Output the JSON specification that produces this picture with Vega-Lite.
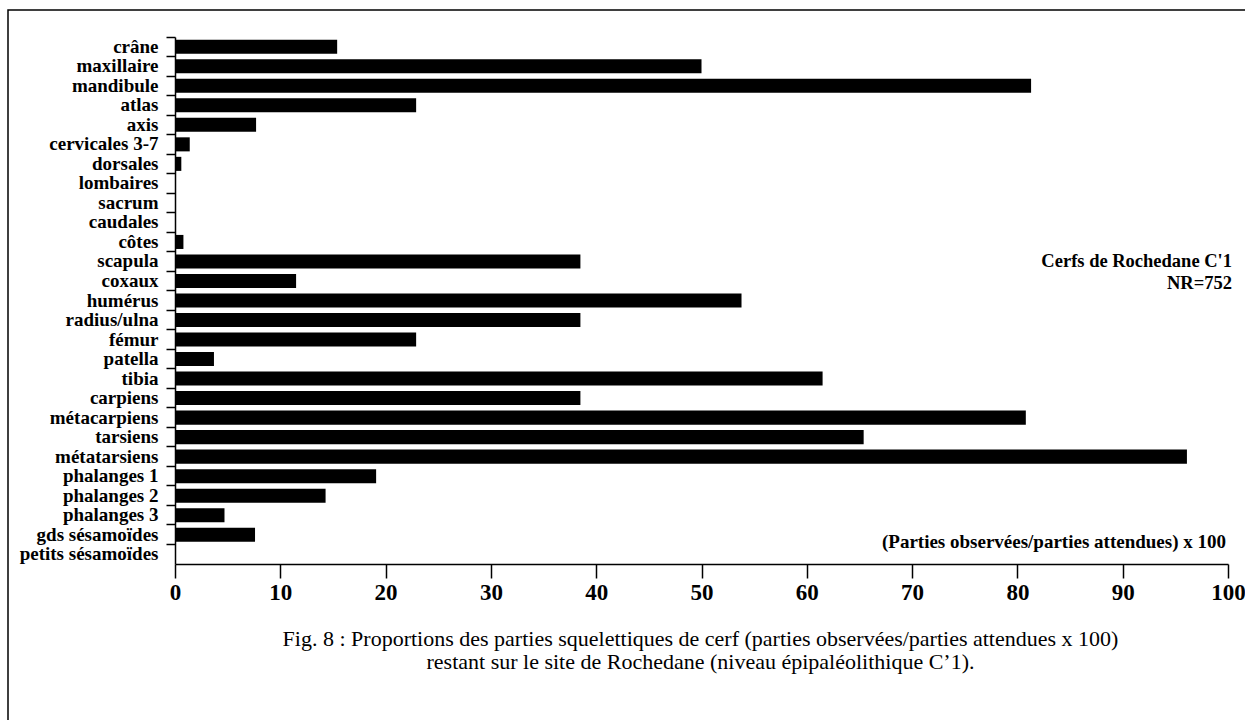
{
  "$schema": "https://vega.github.io/schema/vega-lite/v6.json",
  "width": 1240,
  "height": 712,
  "autosize": {"type": "none"},
  "padding": {"left": 8, "top": 10, "right": 0, "bottom": 0},
  "background": "white",
  "config": {"view": {"stroke": "#000", "strokeWidth": 1.5}, "font": "Liberation Serif"},
  "data": {"values": [
    {"part": "crâne", "value": 15.4},
    {"part": "maxillaire", "value": 50},
    {"part": "mandibule", "value": 81.3},
    {"part": "atlas", "value": 22.9},
    {"part": "axis", "value": 7.7},
    {"part": "cervicales 3-7", "value": 1.4},
    {"part": "dorsales", "value": 0.6},
    {"part": "lombaires", "value": 0},
    {"part": "sacrum", "value": 0},
    {"part": "caudales", "value": 0},
    {"part": "côtes", "value": 0.8},
    {"part": "scapula", "value": 38.5},
    {"part": "coxaux", "value": 11.5},
    {"part": "humérus", "value": 53.8},
    {"part": "radius/ulna", "value": 38.5},
    {"part": "fémur", "value": 22.9},
    {"part": "patella", "value": 3.7},
    {"part": "tibia", "value": 61.5},
    {"part": "carpiens", "value": 38.5},
    {"part": "métacarpiens", "value": 80.8},
    {"part": "tarsiens", "value": 65.4},
    {"part": "métatarsiens", "value": 96.1},
    {"part": "phalanges 1", "value": 19.1},
    {"part": "phalanges 2", "value": 14.3},
    {"part": "phalanges 3", "value": 4.7},
    {"part": "gds sésamoïdes", "value": 7.6},
    {"part": "petits sésamoïdes", "value": 0}
  ]},
  "layer": [
    {
      "mark": {"type": "bar", "color": "#000"},
      "encoding": {
        "y": {
          "field": "part", "type": "nominal",
          "scale": {
            "domain": ["crâne", "maxillaire", "mandibule", "atlas", "axis", "cervicales 3-7", "dorsales", "lombaires", "sacrum", "caudales", "côtes", "scapula", "coxaux", "humérus", "radius/ulna", "fémur", "patella", "tibia", "carpiens", "métacarpiens", "tarsiens", "métatarsiens", "phalanges 1", "phalanges 2", "phalanges 3", "gds sésamoïdes", "petits sésamoïdes"],
            "range": [27, 554], "paddingInner": 0.28, "paddingOuter": 0.14
          },
          "axis": {
            "offset": -167, "title": null,
            "domainColor": "#000", "domainWidth": 1.5,
            "tickColor": "#000", "tickWidth": 1.5, "tickSize": 9, "bandPosition": -0.194,
            "labelFont": "Liberation Serif", "labelFontWeight": "bold", "labelFontSize": 19,
            "labelColor": "#000", "labelPadding": 8, "labelLimit": 0
          }
        },
        "x": {
          "field": "value", "type": "quantitative",
          "scale": {"domain": [0, 100], "range": [167, 1220], "nice": false},
          "axis": {
            "values": [0, 10, 20, 30, 40, 50, 60, 70, 80, 90, 100],
            "offset": -158, "grid": false,
            "domainColor": "#000", "domainWidth": 1.5,
            "tickColor": "#000", "tickWidth": 1.5, "tickSize": 14,
            "labelFont": "Liberation Serif", "labelFontWeight": "bold", "labelFontSize": 23,
            "labelColor": "#000", "labelPadding": 3, "labelFlush": false,
            "title": ["Fig. 8 : Proportions des parties squelettiques de cerf (parties observées/parties attendues x 100)", "restant sur le site de Rochedane (niveau épipaléolithique C’1)."],
            "titleFont": "Liberation Serif", "titleFontWeight": "normal", "titleFontSize": 22,
            "titleColor": "#000", "titleX": 692, "titleY": 64, "titleBaseline": "top",
            "titleAlign": "center", "titleLineHeight": 23
          }
        }
      }
    },
    {
      "data": {"values": [{"note": "Cerfs de Rochedane C'1", "part": "scapula", "pos": 100}]},
      "mark": {"type": "text", "align": "right", "baseline": "middle", "dx": 4, "font": "Liberation Serif", "fontWeight": "bold", "fontSize": 18.5, "color": "#000"},
      "encoding": {
        "x": {"field": "pos", "type": "quantitative"},
        "y": {"field": "part", "type": "nominal"},
        "text": {"field": "note"}
      }
    },
    {
      "data": {"values": [{"note": "NR=752", "part": "coxaux", "pos": 100}]},
      "mark": {"type": "text", "align": "right", "baseline": "middle", "dx": 4, "dy": 2, "font": "Liberation Serif", "fontWeight": "bold", "fontSize": 18.5, "color": "#000"},
      "encoding": {
        "x": {"field": "pos", "type": "quantitative"},
        "y": {"field": "part", "type": "nominal"},
        "text": {"field": "note"}
      }
    },
    {
      "data": {"values": [{"note": "(Parties observées/parties attendues) x 100", "part": "petits sésamoïdes", "pos": 100}]},
      "mark": {"type": "text", "align": "right", "baseline": "middle", "dx": -2, "dy": -12, "font": "Liberation Serif", "fontWeight": "bold", "fontSize": 19, "color": "#000"},
      "encoding": {
        "x": {"field": "pos", "type": "quantitative"},
        "y": {"field": "part", "type": "nominal"},
        "text": {"field": "note"}
      }
    }
  ]
}
